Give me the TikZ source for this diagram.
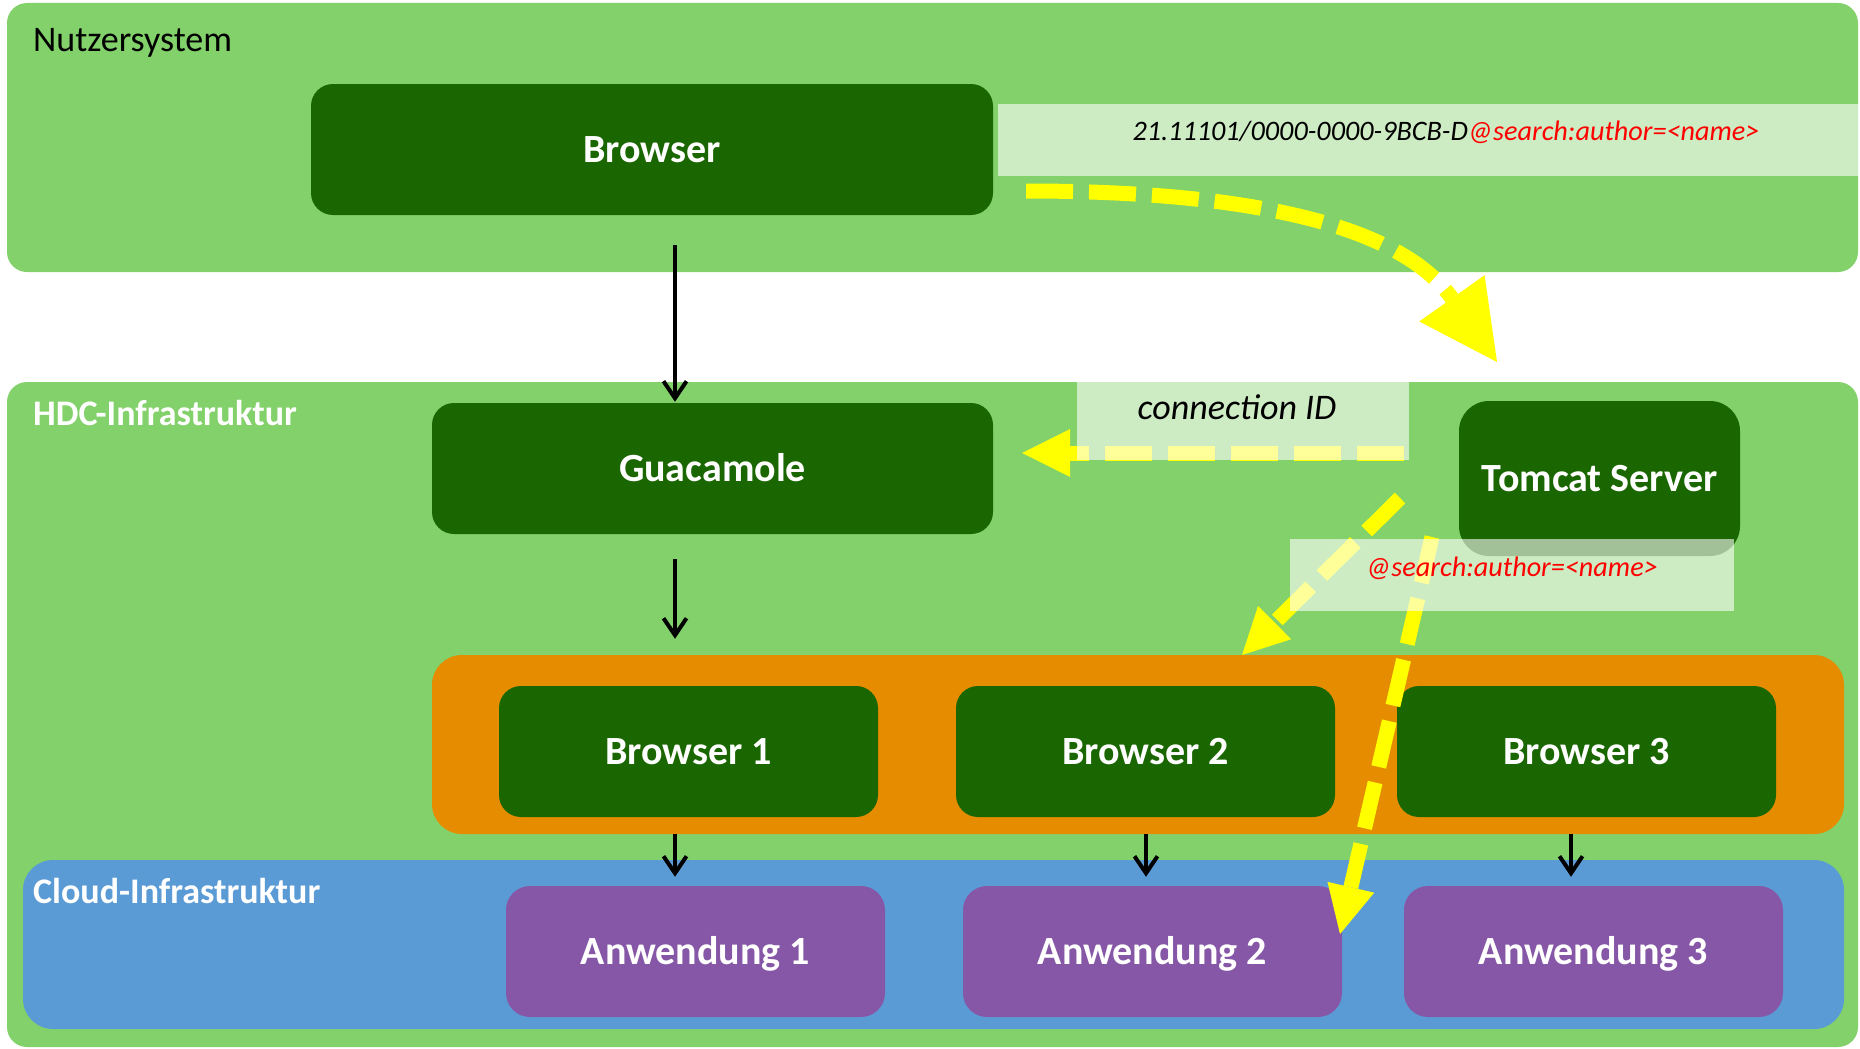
\documentclass[tikz,border=0pt]{standalone}
\usepackage{fontspec}
\setmainfont{Carlito}
\usetikzlibrary{arrows.meta}
\definecolor{panelgreen}{RGB}{130,209,106}
\definecolor{darkgreen}{RGB}{26,102,0}
\definecolor{orangebox}{RGB}{229,140,0}
\definecolor{cloudblue}{RGB}{91,155,213}
\definecolor{purplebox}{RGB}{133,87,166}
\definecolor{searchred}{RGB}{255,0,0}
\definecolor{arrowyellow}{RGB}{255,255,0}
\begin{document}
\begin{tikzpicture}[x=1pt,y=-1pt,
  panel/.style={fill=panelgreen, rounded corners=20pt, inner sep=0pt, minimum width=1851pt},
  hubbox/.style={fill=orangebox, rounded corners=30pt, inner sep=0pt},
  cloudbox/.style={fill=cloudblue, rounded corners=30pt, inner sep=0pt},
  gbox/.style={fill=darkgreen, rounded corners=22pt, inner sep=0pt, text=white,
    font=\fontsize{40}{48}\selectfont\bfseries, text height=25.8pt, text depth=0pt},
  pbox/.style={fill=purplebox, rounded corners=24pt, inner sep=0pt, text=white,
    font=\fontsize{40}{48}\selectfont\bfseries, text height=25.8pt, text depth=0pt,
    minimum width=379pt, minimum height=131pt},
  sbox/.style={gbox, minimum width=379pt, minimum height=131pt},
  labelbox/.style={fill=white, fill opacity=0.6, inner sep=0pt},
  paneltitle/.style={anchor=base west, inner sep=0pt, font=\fontsize{36}{43}\selectfont},
  blk/.style={draw=black, line width=4pt, -{Straight Barb[length=17pt,width=23pt]}},
  ylw/.style={draw=arrowyellow, line width=15pt, dash pattern=on 47pt off 16pt},
]
\useasboundingbox (0,0) rectangle (1860,1049);
\fill[white] (0,0) rectangle (1860,1049);

% panels
\node[panel, minimum height=269pt] (nutzer) at (932.5,137.5) {};
\node[panel, minimum height=665pt] (hdc) at (932.5,714.5) {};
\node[hubbox, minimum width=1412pt, minimum height=179pt] (hubs) at (1138,744.5) {};
\node[cloudbox, minimum width=1821pt, minimum height=169pt] (cloud) at (933.5,944.5) {};

\node[paneltitle, text=black] (tnutzer) at (33,52) {Nutzersystem};
\node[paneltitle, text=white, font=\fontsize{36}{43}\selectfont\bfseries] (thdc) at (33,425) {HDC-Infrastruktur};
\node[paneltitle, text=white, font=\fontsize{36}{43}\selectfont\bfseries] (tcloud) at (33,903) {Cloud-Infrastruktur};

% boxes
\node[gbox, minimum width=682pt, minimum height=131pt] (browser) at (652,149.5) {Browser};
\node[gbox, minimum width=561pt, minimum height=131pt] (guac) at (712.5,468.5) {Guacamole};
\node[gbox, rounded corners=30pt, minimum width=281pt, minimum height=155pt] (tomcat) at (1599.5,478.5) {Tomcat Server};
\node[sbox] (b1) at (688.5,751.5) {Browser 1};
\node[sbox] (b2) at (1145.5,751.5) {Browser 2};
\node[sbox] (b3) at (1586.5,751.5) {Browser 3};
\node[pbox] (a1) at (695.5,951.5) {Anwendung 1};
\node[pbox] (a2) at (1152.5,951.5) {Anwendung 2};
\node[pbox] (a3) at (1593.5,951.5) {Anwendung 3};

% black connectors
\coordinate (c1) at (675,245);
\coordinate (c2) at (675,559);
\coordinate (x1) at (675,0);
\coordinate (x2) at (1146,0);
\coordinate (x3) at (1571,0);
\draw[blk] (c1) -- ([yshift=1pt]c1 |- guac.north);
\draw[blk] (c2) -- ([yshift=16pt]c2 |- hubs.north);
\draw[blk] (x1 |- hubs.south) -- ([yshift=9pt]x1 |- a1.north);
\draw[blk] (x2 |- hubs.south) -- ([yshift=9pt]x2 |- a2.north);
\draw[blk] (x3 |- hubs.south) -- ([yshift=9pt]x3 |- a3.north);

% yellow dashed connectors
\coordinate (y1s) at (1026,191);
\coordinate (y1e) at (1497,362);
\draw[ylw, -{Triangle[length=78pt,width=80pt,line width=0pt]}]
  (y1s) .. controls (1250,191) and (1400,225) .. (y1e);
\coordinate (y2s) at (1404,453);
\draw[ylw, -{Triangle[length=48pt,width=48pt,line width=0pt]}]
  (y2s) -- ([xshift=29pt]guac.east |- y2s);
\coordinate (y3s) at (1400,498);
\coordinate (y3e) at (1242,655);
\draw[ylw, -{Triangle[length=46pt,width=47pt,line width=0pt]}] (y3s) -- (y3e);
\coordinate (y4s) at (1432,537);
\coordinate (y4e) at (1340,934);
\draw[ylw, -{Triangle[length=48pt,width=48pt,line width=0pt]}] (y4s) -- (y4e);

% label boxes
\node[labelbox, minimum width=861pt, minimum height=72pt] (lab1) at (1428.5,140) {};
\node[labelbox, minimum width=332pt, minimum height=78pt] (lab2) at (1243,421) {};
\node[labelbox, minimum width=444pt, minimum height=72pt] (lab3) at (1512,575) {};

\node[anchor=base, inner sep=0pt, font=\fontsize{28.2}{34}\selectfont\itshape] (t1) at (1446,140)
  {\textcolor{black}{21.11101/0000-0000-9BCB-D}\textcolor{searchred}{@search:author=<name>}};
\node[anchor=base, inner sep=0pt, font=\fontsize{36}{43}\selectfont\itshape] (t2) at (1237,419) {connection ID};
\node[anchor=base, inner sep=0pt, font=\fontsize{28.2}{34}\selectfont\itshape, text=searchred] (t3) at (1512,576) {@search:author=<name>};
\end{tikzpicture}
\end{document}
